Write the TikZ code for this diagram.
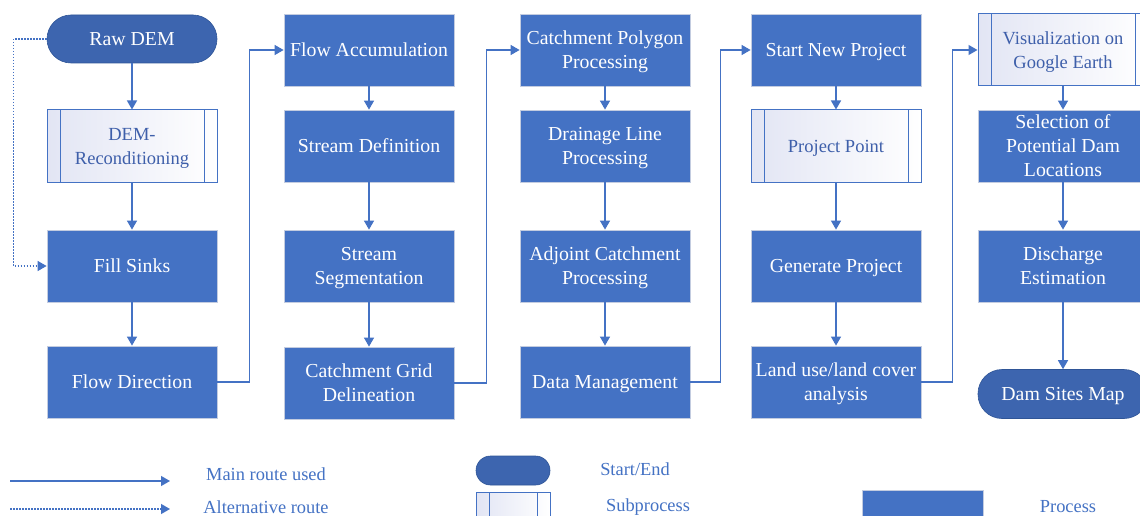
\documentclass[tikz,border=0pt]{standalone}
\usepackage{fontspec}
\setmainfont{Liberation Serif}
\usetikzlibrary{arrows.meta}
\definecolor{proc}{HTML}{4472C4}
\definecolor{procb}{HTML}{C3CCE0}
\definecolor{term}{HTML}{3D65AF}
\definecolor{termb}{HTML}{2F5597}
\definecolor{lav}{HTML}{E2E5F4}
\definecolor{ln}{HTML}{4472C4}
\definecolor{subtxt}{HTML}{3E5FAA}
\tikzset{
  base/.style={minimum width=170pt, minimum height=72pt, inner sep=0pt, align=center,
    text depth=0pt, font=\fontsize{19.8}{24}\selectfont},
  procbox/.style={base, fill=proc, draw=procb, line width=0.8pt, text=white},
  termbox/.style={base, minimum height=48pt, fill=term, draw=termb, line width=0.6pt,
    rounded corners=24pt, text=white},
  subbox/.style={base, draw=ln, line width=1pt, left color=lav, right color=white,
    text=subtxt, font=\fontsize{18.5}{24}\selectfont,
    path picture={\draw[ln, line width=1pt]
        ([xshift=13pt]path picture bounding box.north west) -- ([xshift=13pt]path picture bounding box.south west)
        ([xshift=-13pt]path picture bounding box.north east) -- ([xshift=-13pt]path picture bounding box.south east);}},
  arr/.style={draw=ln, line width=1.3pt, -{Triangle[length=9pt,width=10pt]}},
  altarr/.style={arr, dash pattern=on 1.5pt off 1.5pt},
  legtxt/.style={text=ln, font=\fontsize{18.4}{20}\selectfont, inner sep=0pt}
}
\begin{document}
\begin{tikzpicture}[x=1pt,y=-1pt]
\useasboundingbox[fill=white] (0,0) rectangle (1140,516);
% column 1
\node[termbox] (raw) at (132,39) {Raw DEM};
\node[subbox] (recon) at (132,146) {DEM-\\Reconditioning};
\node[procbox] (fill) at (132,266) {Fill Sinks};
\node[procbox] (fdir) at (132,382) {Flow Direction};
% column 2
\node[procbox] (facc) at (369,50) {Flow Accumulation};
\node[procbox] (sdef) at (369,146) {Stream Definition};
\node[procbox] (sseg) at (369,266) {Stream\\Segmentation};
\node[procbox] (cgd) at (369,383) {Catchment Grid\\Delineation};
% column 3
\node[procbox] (cpp) at (605,50) {Catchment Polygon\\Processing};
\node[procbox] (dlp) at (605,146) {Drainage Line\\Processing};
\node[procbox] (acp) at (605,266) {Adjoint Catchment\\Processing};
\node[procbox] (dm) at (605,382) {Data Management};
% column 4
\node[procbox] (snp) at (836,50) {Start New Project};
\node[subbox] (pp) at (836,146) {Project Point};
\node[procbox] (gp) at (836,266) {Generate Project};
\node[procbox] (lulc) at (836,382) {Land use/land cover\\analysis};
% column 5
\node[subbox, text depth=-6pt] (vge) at (1063,50) {Visualization on\\Google Earth};
\node[procbox] (sel) at (1063,146) {Selection of\\Potential Dam\\Locations};
\node[procbox] (dis) at (1063,266) {Discharge\\Estimation};
\node[termbox, minimum height=49pt] (map) at (1063,394) {Dam Sites Map};
% vertical arrows
\draw[arr] (raw) -- (recon);
\draw[arr] (recon) -- (fill);
\draw[arr] (fill) -- (fdir);
\draw[arr] (facc) -- (sdef);
\draw[arr] (sdef) -- (sseg);
\draw[arr] (sseg) -- (cgd);
\draw[arr] (cpp) -- (dlp);
\draw[arr] (dlp) -- (acp);
\draw[arr] (acp) -- (dm);
\draw[arr] (snp) -- (pp);
\draw[arr] (pp) -- (gp);
\draw[arr] (gp) -- (lulc);
\draw[arr] (vge) -- (sel);
\draw[arr] (sel) -- (dis);
\draw[arr] (dis) -- (map);
% column links
\draw[arr] (fdir.east) -- ++(32,0) |- (facc.west);
\draw[arr] (cgd.east) -- ++(32,0) |- (cpp.west);
\draw[arr] (dm.east) -- ++(30,0) |- (snp.west);
\draw[arr] (lulc.east) -- ++(31,0) |- (vge.west);
% alternative route
\draw[altarr] (raw.west) -- ++(-33,0) |- (fill.west);
% legend
\coordinate (m1) at (10,481);
\coordinate (m2) at (170,481);
\coordinate (a1) at (10,509);
\coordinate (a2) at (170,509);
\draw[arr] (m1) -- (m2);
\draw[altarr] (a1) -- (a2);
\node[legtxt] (lmain) at (266,474) {Main route used};
\node[legtxt] (lalt) at (266,507) {Alternative route};
\node[termbox, minimum width=74pt, minimum height=29pt, rounded corners=14.5pt] (lterm) at (513,470.5) {};
\node[subbox, minimum width=74pt, minimum height=32pt] (lsub) at (513,508) {};
\node[procbox, minimum width=121pt, minimum height=32pt] (lproc) at (922.5,506) {};
\node[legtxt] (lse) at (635,469) {Start/End};
\node[legtxt] (lsp) at (648,507) {Subprocess};
\node[legtxt] (lpr) at (1068,507) {Process};
\end{tikzpicture}
\end{document}
